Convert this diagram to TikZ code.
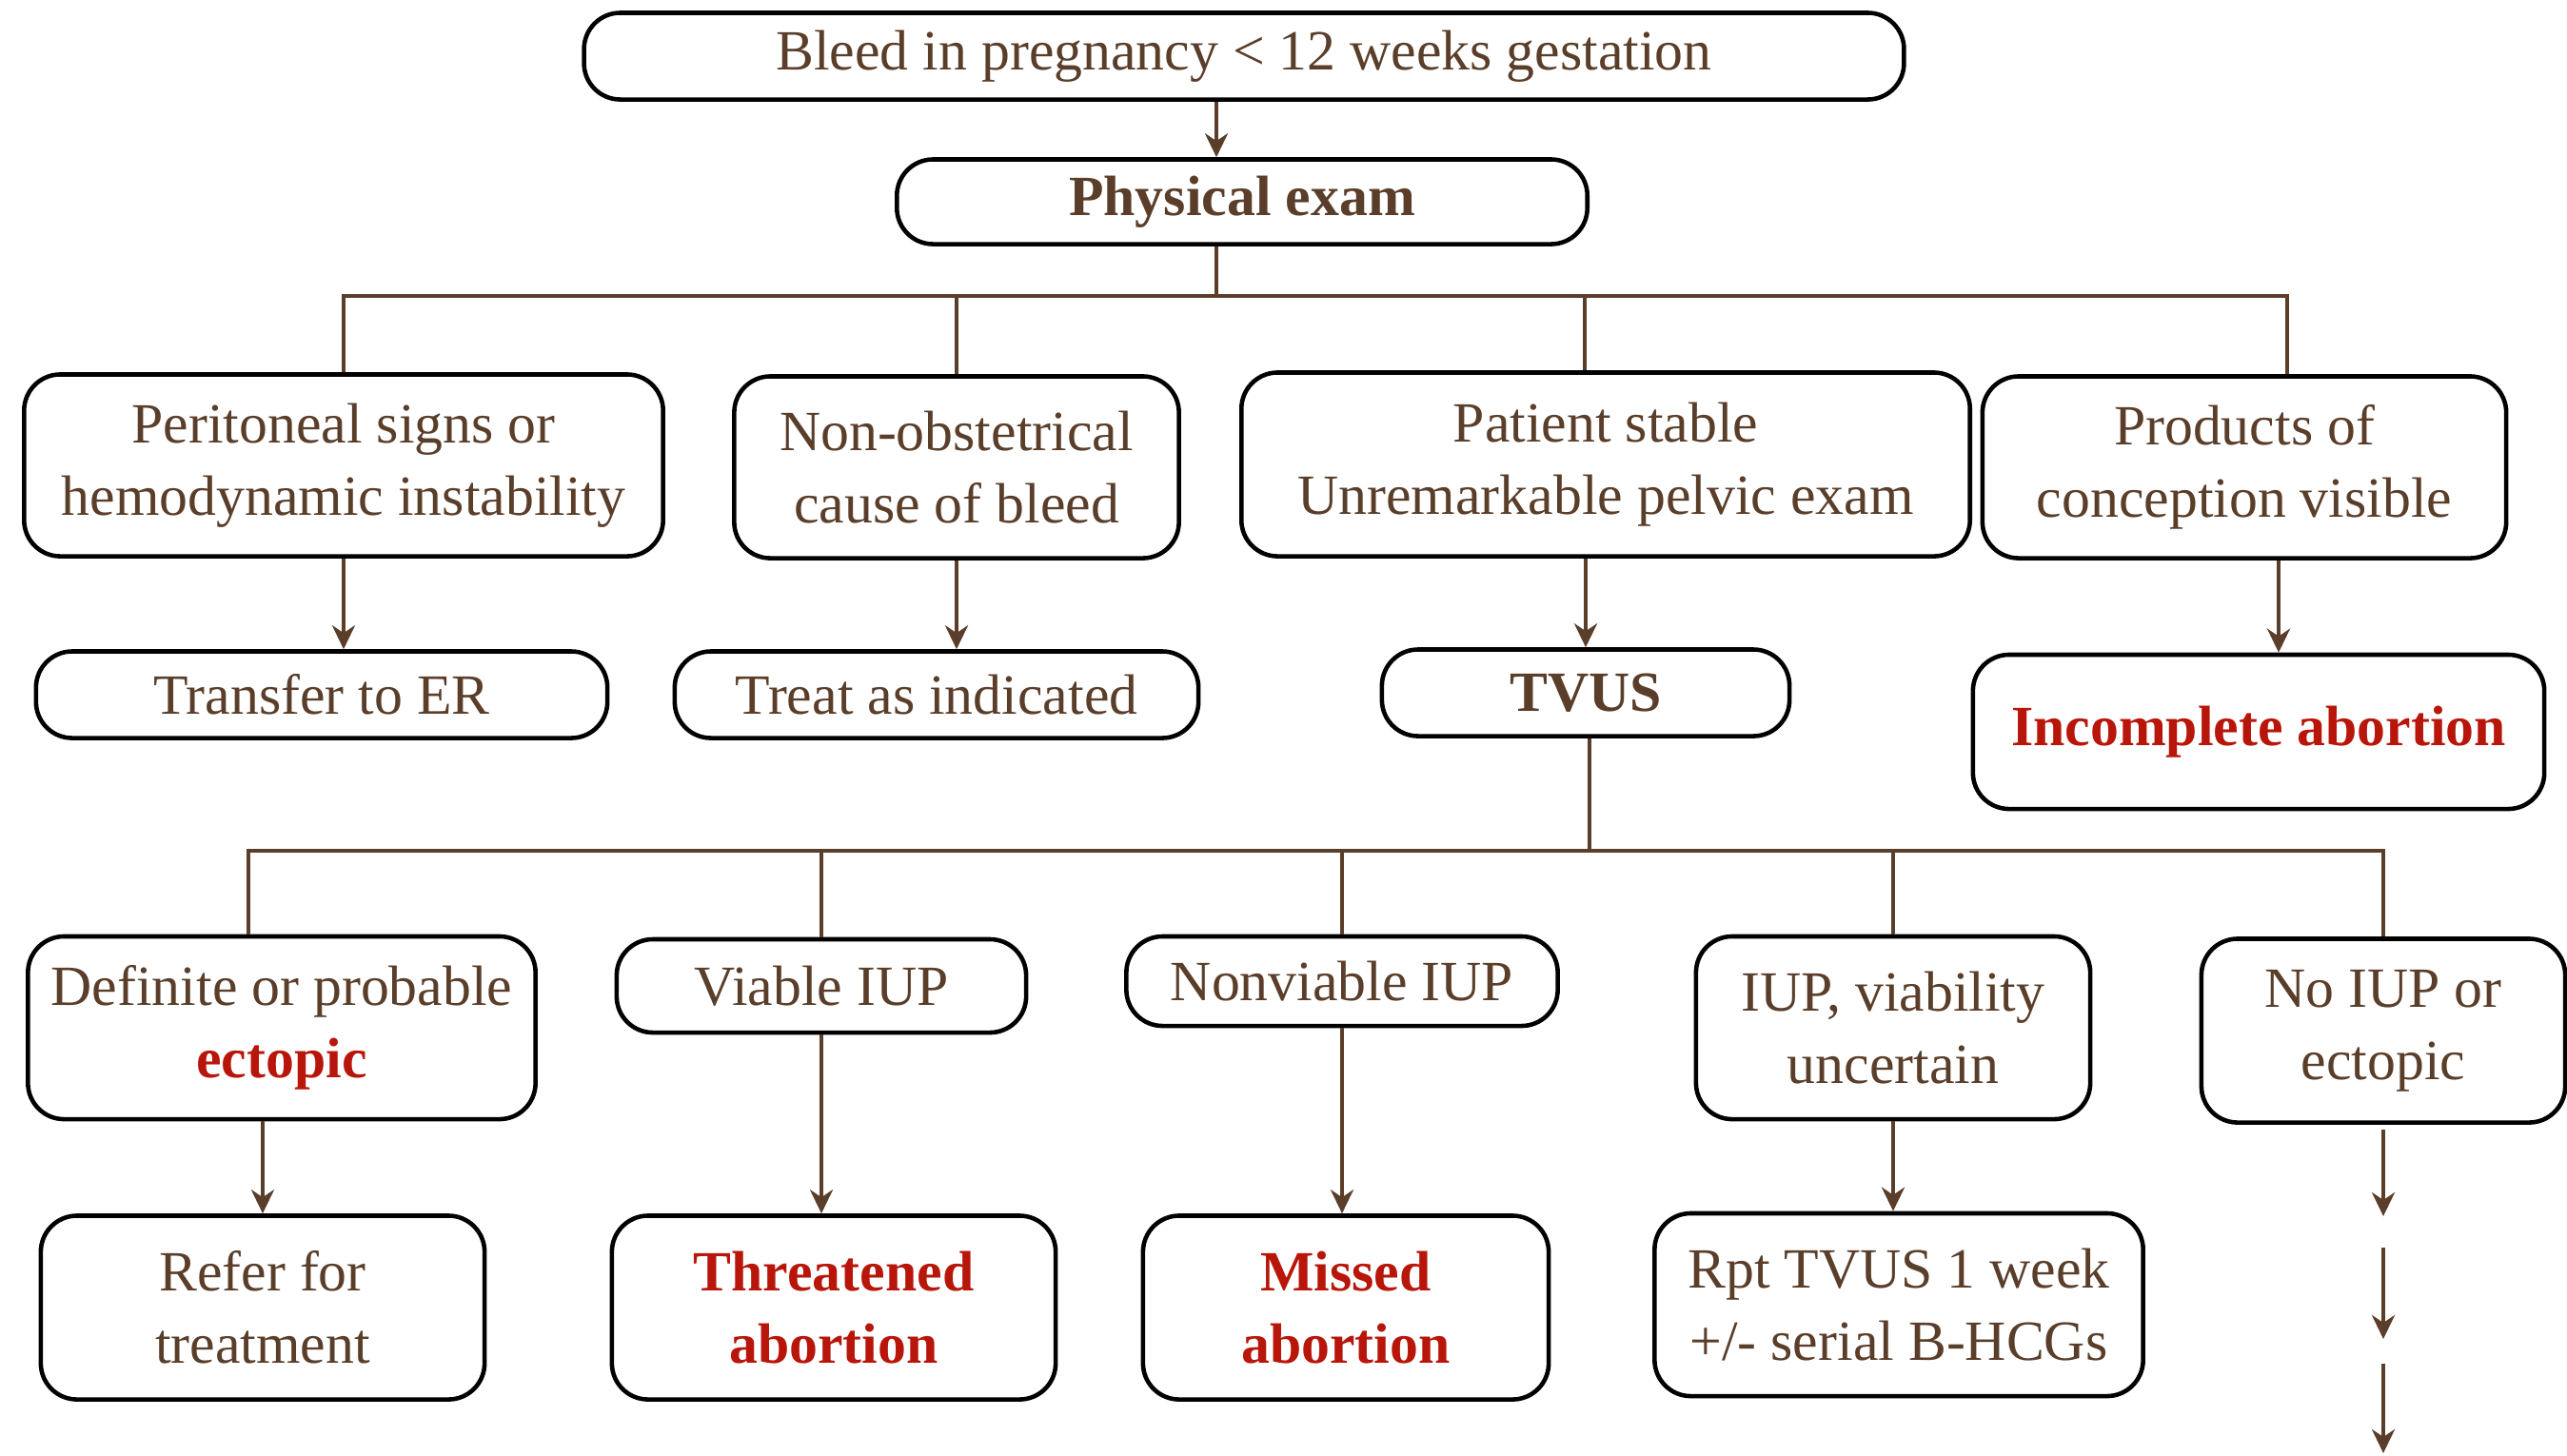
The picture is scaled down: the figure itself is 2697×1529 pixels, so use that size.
\documentclass[tikz,border=0pt]{standalone}
\usepackage{fontspec}
\setmainfont{Liberation Serif}
\usetikzlibrary{arrows.meta}
\definecolor{inkbrown}{RGB}{90,62,42}
\definecolor{alertred}{RGB}{184,22,10}
\newcommand{\hot}[1]{\textcolor{alertred}{\textbf{#1}}}

\begin{document}
\begin{tikzpicture}
    [ x=0.01cm, y=-0.01cm
    , box/.style={draw=black, line width=1.3pt, rounded corners=0.38cm, fill=white,
        text=inkbrown, align=center, inner sep=0pt, font=\fontsize{17}{21.6}\selectfont}
    , link/.style={draw=inkbrown, line width=1.3pt}
    , arrow/.style={link, -{Stealth[length=0.25cm, width=0.24cm, inset=0.08cm]}}
    ]
  \useasboundingbox (0,0) rectangle (2697,1529);

  % top of the chart
  \node[box, minimum width=13.86cm, minimum height=0.91cm] (bleed) at (1307,59)
    {Bleed in pregnancy < 12 weeks gestation};
  \node[box, minimum width=7.25cm, minimum height=0.89cm] (pe) at (1305,212)
    {\textbf{Physical exam}};

  % first row of findings
  \node[box, minimum width=6.71cm, minimum height=1.91cm] (peri) at (361,489)
    {Peritoneal signs or\\hemodynamic instability};
  \node[box, minimum width=4.67cm, minimum height=1.91cm] (nonob) at (1005,491)
    {Non-obstetrical\\cause of bleed};
  \node[box, minimum width=7.65cm, minimum height=1.93cm] (stable) at (1687,488)
    {Patient stable\\Unremarkable pelvic exam};
  \node[box, minimum width=5.50cm, minimum height=1.91cm] (prod) at (2358,491)
    {Products of\\conception visible};

  % second row
  \node[box, minimum width=6.00cm, minimum height=0.91cm] (transfer) at (338,730)
    {Transfer to ER};
  \node[box, minimum width=5.50cm, minimum height=0.91cm] (treat) at (984,730)
    {Treat as indicated};
  \node[box, minimum width=4.28cm, minimum height=0.91cm] (tvus) at (1666,728)
    {\textbf{TVUS}};
  \node[box, minimum width=6.00cm, minimum height=1.62cm] (incomp) at (2373,769)
    {\hot{Incomplete abortion}};

  % ultrasound findings
  \node[box, minimum width=5.33cm, minimum height=1.92cm] (ect) at (296,1080)
    {Definite or probable\\\hot{ectopic}};
  \node[box, minimum width=4.30cm, minimum height=0.98cm] (viable) at (863,1036)
    {Viable IUP};
  \node[box, minimum width=4.53cm, minimum height=0.94cm] (nonv) at (1410,1031)
    {Nonviable IUP};
  \node[box, minimum width=4.14cm, minimum height=1.92cm] (unc) at (1989,1080)
    {IUP, viability\\uncertain};
  \node[box, minimum width=3.82cm, minimum height=1.93cm] (noiup) at (2504,1083)
    {No IUP or\\ectopic};

  % outcomes
  \node[box, minimum width=4.66cm, minimum height=1.93cm] (refer) at (276,1374)
    {Refer for\\treatment};
  \node[box, minimum width=4.66cm, minimum height=1.93cm] (threat) at (876,1374)
    {\hot{Threatened}\\\hot{abortion}};
  \node[box, minimum width=4.26cm, minimum height=1.93cm] (missed) at (1414,1374)
    {\hot{Missed}\\\hot{abortion}};
  \node[box, minimum width=5.13cm, minimum height=1.92cm] (rpt) at (1995,1371)
    {Rpt TVUS 1 week\\+/- serial B-HCGs};

  \coordinate (bus1) at (1278,311);
  \coordinate (bus2) at (1670,894);
  \coordinate (d1) at (2504,1187);
  \coordinate (d2) at (2504,1278);
  \coordinate (d3) at (2504,1311);
  \coordinate (d4) at (2504,1407);
  \coordinate (d5) at (2504,1433);
  \coordinate (d6) at (2504,1527);

  % connectors
  \draw[arrow] (bleed.south -| bus1) -- (pe.north -| bus1);
  \draw[link] (pe.south -| bus1) -- (bus1);
  \draw[link] (peri.north) |- (bus1) -| ([xshift=0.45cm]prod.north);
  \draw[link] (nonob.north) -- (nonob.north |- bus1);
  \draw[link] ([xshift=-0.22cm]stable.north) -- ([xshift=-0.22cm]stable.north |- bus1);

  \draw[arrow] (peri.south) -- (peri.south |- transfer.north);
  \draw[arrow] (nonob.south) -- (nonob.south |- treat.north);
  \draw[arrow] (tvus.north |- stable.south) -- (tvus.north);
  \draw[arrow] ([xshift=0.36cm]prod.south) -- ([xshift=0.36cm]prod.south |- incomp.north);

  \draw[link] (tvus.south -| bus2) -- (bus2);
  \draw[link] ([xshift=-0.35cm]ect.north) |- (bus2) -| (noiup.north);
  \draw[link] (viable.north) -- (viable.north |- bus2);
  \draw[link] (nonv.north) -- (nonv.north |- bus2);
  \draw[link] (unc.north) -- (unc.north |- bus2);

  \draw[arrow] (ect.south -| refer.north) -- (refer.north);
  \draw[arrow] (viable.south) -- (viable.south |- threat.north);
  \draw[arrow] (nonv.south) -- (nonv.south |- missed.north);
  \draw[arrow] (unc.south) -- (unc.south |- rpt.north);

  \draw[arrow] (d1) -- (d2);
  \draw[arrow] (d3) -- (d4);
  \draw[arrow] (d5) -- (d6);
\end{tikzpicture}
\end{document}
